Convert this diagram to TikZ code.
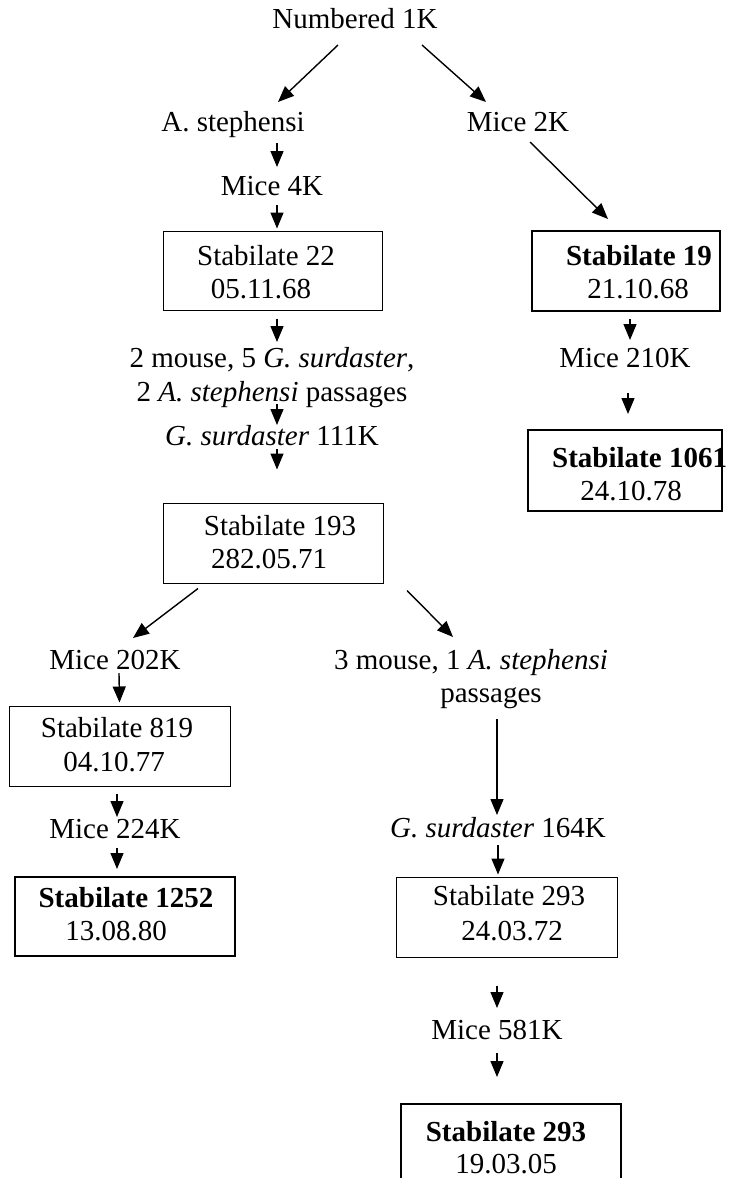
\documentclass[tikz,border=0pt]{standalone}
\usepackage{fontspec}
\setmainfont{Liberation Serif}
\usetikzlibrary{arrows.meta,calc}
\begin{document}
\begin{tikzpicture}[x=1pt,y=-1pt,
  lbl/.style={anchor=base,inner sep=0pt,font=\fontsize{29}{33}\selectfont},
  lblb/.style={lbl,font=\fontsize{29}{33}\selectfont\bfseries},
  stab/.style={draw,line width=1pt,minimum width=#1,minimum height=80pt,inner sep=0pt},
  stabbold/.style={stab=#1,line width=2pt},
  arr/.style={line width=1.4pt,-{Triangle[length=16pt,width=13pt]}}]
\useasboundingbox[fill=white] (0,0) rectangle (740,1178);

% stabilate boxes
\node[stab=219pt,minimum height=79pt] (b22) at (272.5,270.5) {};
\node[stabbold=188pt] (b19) at (626,271) {};
\node[stabbold=194pt,minimum height=81pt] (b1061) at (625,470.5) {};
\node[stab=220pt] (b193) at (273,543) {};
\node[stab=221pt] (b819) at (119.5,746) {};
\node[stabbold=220pt,minimum height=79pt] (b1252) at (125,916.5) {};
\node[stab=221pt] (b293) at (506.5,917) {};
\node[stabbold=220pt] (b293n) at (511,1144) {};

% box contents
\node[lbl] (t22a) at (266,265) {Stabilate 22};
\node[lbl] (t22b) at (261,298) {05.11.68};
\node[lblb] (t19a) at (639,265) {Stabilate 19};
\node[lbl] (t19b) at (638,298) {21.10.68};
\node[lblb,anchor=base west] (t1061a) at (552,467) {Stabilate 1061};
\node[lbl] (t1061b) at (631,500) {24.10.78};
\node[lbl] (t193a) at (280,535) {Stabilate 193};
\node[lbl] (t193b) at (269,568) {282.05.71};
\node[lbl] (t819a) at (117,737) {Stabilate 819};
\node[lbl] (t819b) at (114,771) {04.10.77};
\node[lblb] (t1252a) at (126,907) {Stabilate 1252};
\node[lbl] (t1252b) at (116,940) {13.08.80};
\node[lbl] (t293a) at (509,905) {Stabilate 293};
\node[lbl] (t293b) at (512,940) {24.03.72};
\node[lblb] (t293na) at (506,1141) {Stabilate 293};
\node[lbl] (t293nb) at (506,1173) {19.03.05};

% passage labels
\node[lbl] (n1) at (355,28) {Numbered 1K};
\node[lbl] (ast) at (233,131) {A. stephensi};
\node[lbl] (m2k) at (518,131) {Mice 2K};
\node[lbl] (m4k) at (272,195) {Mice 4K};
\node[lbl] (p1) at (272,367) {2 mouse, 5 \textit{G. surdaster},};
\node[lbl] (p2) at (272,401) {2 \textit{A. stephensi} passages};
\node[lbl] (g111) at (272,445) {\textit{G. surdaster} 111K};
\node[lbl] (m210) at (625,367) {Mice 210K};
\node[lbl] (m202) at (115,669) {Mice 202K};
\node[lbl] (q1) at (471,669) {3 mouse, 1 \textit{A. stephensi}};
\node[lbl] (q2) at (491,702) {passages};
\node[lbl] (m224) at (115,838) {Mice 224K};
\node[lbl] (g164) at (498,837) {\textit{G. surdaster} 164K};
\node[lbl] (m581) at (497,1039) {Mice 581K};

% connectors
\draw[arr] ($(n1.base)+(-17,17)$) -- ($(ast.base)+(45,-29)$);
\draw[arr] ($(n1.base)+(67,17)$) -- ($(m2k.base)+(-32,-29)$);
\draw[arr] ($(ast.base)+(44,12)$) -- ($(m4k.base)+(5,-28)$);
\draw[arr] ($(m4k.base)+(5,10)$) -- ($(b22.north)+(4.5,-2)$);
\draw[arr] ($(b22.south)+(4.5,8)$) -- ($(p1.base)+(5,-25)$);
\draw[arr] ($(p2.base)+(5,3)$) -- ($(g111.base)+(5,-20)$);
\draw[arr] ($(g111.base)+(5,4)$) -- ($(b193.north)+(4,-33)$);
\draw[arr] ($(b193.south)+(-75,5)$) -- ($(m202.base)+(18,-31)$);
\draw[arr] ($(b193.south)+(134,7)$) -- ($(q1.base)+(-18,-32)$);
\draw[arr] ($(m202.base)+(4,4)$) -- ($(b819.north)+(0,-3)$);
\draw[arr] ($(b819.south)+(-2.5,7)$) -- ($(m224.base)+(2,-21)$);
\draw[arr] ($(m224.base)+(2,10)$) -- ($(b1252.north)+(-8,-7)$);
\draw[arr] ($(q2.base)+(6,17)$) -- ($(g164.base)+(-1,-22)$);
\draw[arr] ($(g164.base)+(0,8)$) -- ($(b293.north)+(-8.5,-2)$);
\draw[arr] ($(b293.south)+(-9.5,28)$) -- ($(m581.base)+(0,-31)$);
\draw[arr] ($(m581.base)+(0,14)$) -- ($(b293n.north)+(-14,-26)$);
\draw[arr] ($(m2k.base)+(12,11)$) -- ($(b19.north)+(-18,-11)$);
\draw[arr] ($(b19.south)+(4,7)$) -- ($(m210.base)+(5,-27)$);
\draw[arr] ($(m210.base)+(3,26)$) -- ($(b1061.north)+(3,-15)$);
\end{tikzpicture}
\end{document}
